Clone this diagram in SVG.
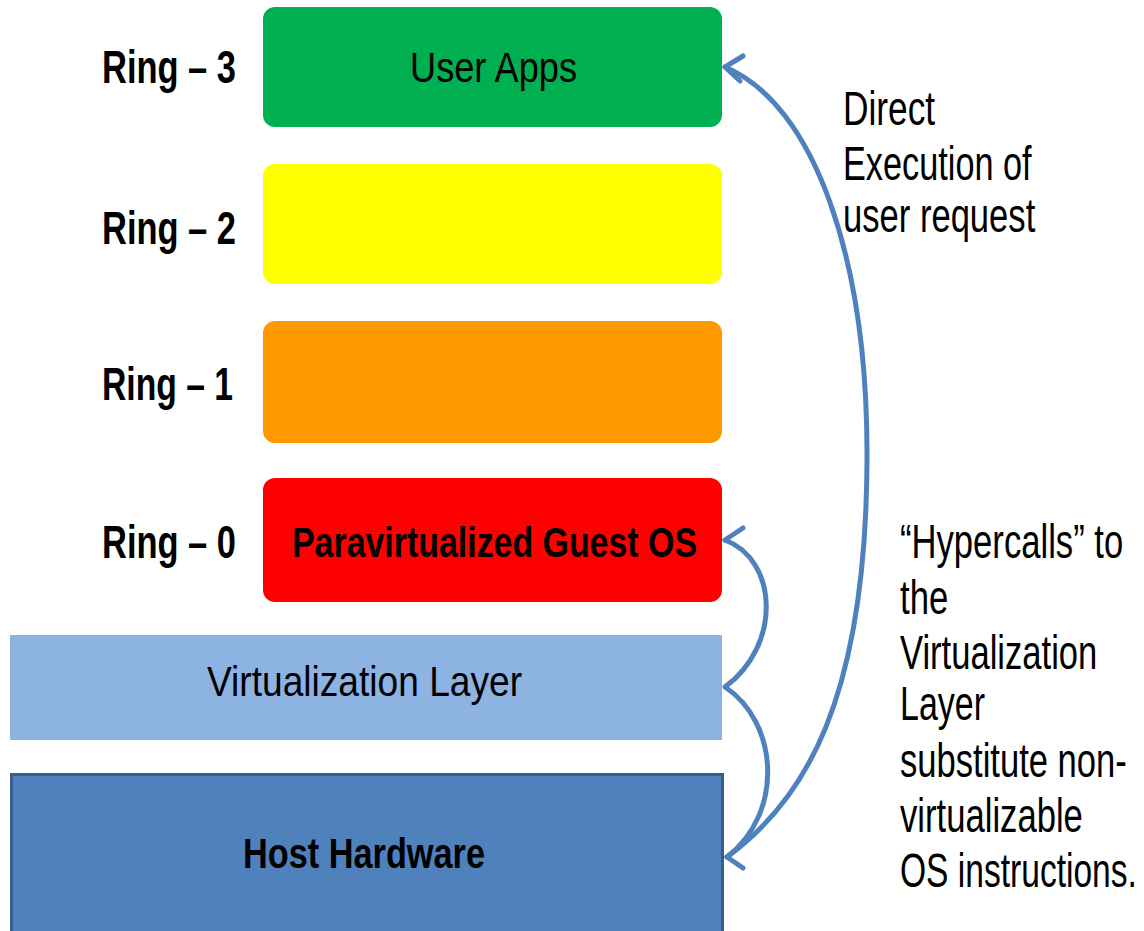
<svg xmlns="http://www.w3.org/2000/svg" width="1144" height="931" viewBox="0 0 1144 931">
  <style>
    .ring { font-family: "Liberation Sans", Arial, sans-serif; font-weight: bold; font-size: 46px; fill: #000; }
    .lbl { font-family: "Liberation Sans", Arial, sans-serif; font-size: 42px; fill: #000; }
    .b { font-weight: bold; }
    .note { font-family: "Liberation Sans", Arial, sans-serif; font-size: 48px; fill: #000; }
    .conn { fill: none; stroke: #4F81BD; stroke-width: 5; stroke-linecap: round; stroke-linejoin: round; }
  </style>
  <rect width="1144" height="931" fill="#fff"/>

  <!-- ring labels -->
  <g id="ring-labels">
    <text class="ring" x="102" y="83" textLength="134" lengthAdjust="spacingAndGlyphs">Ring – 3</text>
    <text class="ring" x="102" y="244" textLength="134" lengthAdjust="spacingAndGlyphs">Ring – 2</text>
    <text class="ring" x="102" y="400" textLength="131" lengthAdjust="spacingAndGlyphs">Ring – 1</text>
    <text class="ring" x="102" y="558" textLength="134" lengthAdjust="spacingAndGlyphs">Ring – 0</text>
  </g>

  <g id="user-apps">
    <rect x="263" y="7" width="459" height="120" rx="12" fill="#00B050"/>
    <text class="lbl" x="410" y="82" textLength="167" lengthAdjust="spacingAndGlyphs">User Apps</text>
  </g>
  <g id="ring2">
    <rect x="263" y="164" width="459" height="120" rx="12" fill="#FFFF00"/>
  </g>
  <g id="ring1">
    <rect x="263" y="321" width="459" height="122" rx="12" fill="#FF9900"/>
  </g>
  <g id="guest-os">
    <rect x="263" y="478" width="459" height="124" rx="12" fill="#FF0000"/>
    <text class="lbl b" x="292" y="557" textLength="405" lengthAdjust="spacingAndGlyphs">Paravirtualized Guest OS</text>
  </g>
  <g id="virtualization-layer">
    <rect x="10" y="635" width="712" height="105" fill="#8DB3E2"/>
    <text class="lbl" x="207" y="696" font-size="48" textLength="315" lengthAdjust="spacingAndGlyphs">Virtualization Layer</text>
  </g>
  <g id="host-hardware">
    <rect x="11.5" y="774.5" width="711" height="160" fill="#4F81BD" stroke="#385D8A" stroke-width="3"/>
    <text class="lbl b" x="243" y="868" textLength="242" lengthAdjust="spacingAndGlyphs">Host Hardware</text>
  </g>

  <!-- connectors -->
  <g id="connectors">
    <!-- guest OS ↔ virtualization layer ↔ host hardware -->
    <path class="conn" d="M725,540 C778,560 782,645 725,687 C778,722 785,812 727,857"/>
    <!-- host hardware → user apps -->
    <path class="conn" d="M727,857 C805,800 866,700 867,460 C868,260 815,105 725,67"/>
    <!-- arrowheads -->
    <path class="conn" d="M743,56 L725,67 L740,81"/>
    <path class="conn" d="M743,528 L725,540"/>
    <path class="conn" d="M727,857 L743,868"/>
  </g>

  <!-- annotations, horizontally condensed -->
  <g id="note-direct" transform="translate(843,0) scale(0.72,1)">
    <text class="note" x="0" y="125" textLength="128" lengthAdjust="spacingAndGlyphs">Direct</text>
    <text class="note" x="0" y="180" textLength="262" lengthAdjust="spacingAndGlyphs">Execution of</text>
    <text class="note" x="0" y="232" textLength="267" lengthAdjust="spacingAndGlyphs">user request</text>
  </g>
  <g id="note-hypercalls" transform="translate(900,0) scale(0.72,1)">
    <text class="note" x="0" y="558" textLength="310" lengthAdjust="spacingAndGlyphs">“Hypercalls” to</text>
    <text class="note" x="0" y="614" textLength="67" lengthAdjust="spacingAndGlyphs">the</text>
    <text class="note" x="0" y="669" textLength="274" lengthAdjust="spacingAndGlyphs">Virtualization</text>
    <text class="note" x="0" y="720" textLength="118" lengthAdjust="spacingAndGlyphs">Layer</text>
    <text class="note" x="0" y="777" textLength="315" lengthAdjust="spacingAndGlyphs">substitute non-</text>
    <text class="note" x="0" y="832" textLength="254" lengthAdjust="spacingAndGlyphs">virtualizable</text>
    <text class="note" x="0" y="887" textLength="329" lengthAdjust="spacingAndGlyphs">OS instructions.</text>
  </g>
</svg>
